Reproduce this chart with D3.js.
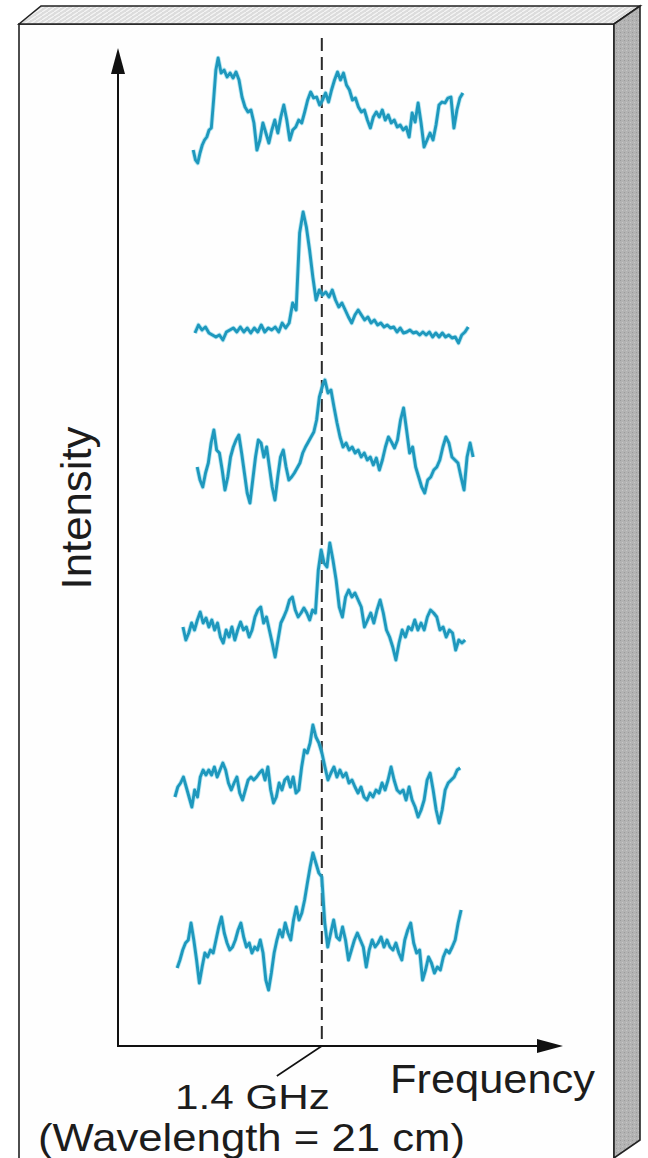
<!DOCTYPE html>
<html>
<head>
<meta charset="utf-8">
<script src="https://cdn.jsdelivr.net/npm/d3@7"></script>
<style>
  html, body { margin: 0; padding: 0; background: #ffffff; }
  svg { display: block; }
  text { font-family: "Liberation Sans", Arial, Helvetica, sans-serif; fill: #1c1c1c; }
</style>
</head>
<body>
<svg id="chart" width="648" height="1158"></svg>
<script>
// ---------------- data ----------------
// Frequency (arbitrary channel units) of each spectrum: [start, peak, end]
const traceSpans = [
  [16.9, 22.5, 77.5],
  [17.3, 41.6, 78.7],
  [17.8, 46.5, 79.8],
  [14.6, 47.6, 78.0],
  [12.8, 43.8, 76.9],
  [13.3, 43.8, 77.1]
];
// position of the 1.4 GHz (21 cm) line on the frequency axis
const lineFreq = 45.8;
const lineLabel = "1.4 GHz";
const lineSubLabel = "(Wavelength = 21 cm)";
const xLabel = "Frequency";
const yLabel = "Intensity";

// intensities (relative units) sampled across each span, top to bottom
const spectrum1 = [55,45,42,52,60,65,68,75,77,105,135,147,132,135,128,132,127,133,125,108,98,93,95,82,55,65,82,72,62,75,85,72,88,100,85,65,75,78,85,82,93,105,113,107,108,100,105,112,103,115,125,133,125,132,120,115,105,107,98,93,95,85,77,88,93,88,95,85,90,82,85,78,80,75,78,68,92,83,102,82,58,65,72,65,80,100,103,102,107,108,77,95,107,112];
const spectrum2 = [37,45,40,43,37,35,33,35,30,38,40,42,38,43,38,42,37,42,38,45,38,42,40,43,38,47,42,47,67,60,137,158,143,120,93,70,80,75,78,73,80,70,63,67,60,53,47,55,60,55,50,53,47,50,45,47,43,45,42,43,38,42,37,38,40,37,38,35,38,35,38,33,37,33,37,33,35,32,33,27,35,38,43];
const spectrum3 = [68,55,48,62,72,92,105,85,82,65,45,58,78,88,95,100,82,62,42,32,55,78,95,92,78,88,68,48,35,58,78,85,68,55,58,62,67,72,82,88,93,98,103,115,138,148,155,142,145,128,112,98,88,92,85,88,82,85,78,82,75,78,70,77,65,75,88,98,93,87,95,115,127,105,82,88,68,58,48,42,55,58,65,68,75,88,98,92,78,75,72,58,45,78,92,78];
const spectrum4 = [73,60,67,77,70,80,88,77,82,73,80,70,77,63,57,70,63,73,60,70,78,70,73,63,70,83,90,93,77,83,70,57,43,60,77,83,90,100,103,90,83,87,92,87,80,90,87,130,150,137,133,157,140,120,93,83,103,110,103,107,100,93,73,80,87,77,90,100,87,70,63,53,40,57,70,63,73,70,80,70,77,70,83,90,87,83,70,73,63,70,67,50,60,57,60];
const spectrum5 = [68,78,82,88,78,68,58,75,68,88,95,90,95,90,98,88,95,102,95,82,75,82,88,72,65,75,85,88,85,88,92,95,85,98,75,62,68,82,75,85,88,78,88,72,75,98,115,112,122,140,128,122,112,98,85,92,98,88,95,88,92,82,85,78,72,78,68,65,72,68,75,72,82,75,85,98,85,75,72,75,65,78,65,58,48,55,65,85,92,75,55,42,55,75,82,85,88,95,97];
const spectrum6 = [62,70,80,87,90,107,90,70,47,63,77,73,80,77,90,103,113,97,87,80,83,90,100,107,93,83,87,77,83,80,90,77,50,40,57,77,90,100,93,107,97,90,110,123,110,117,130,147,163,177,167,157,153,107,83,97,110,93,90,103,90,70,80,90,97,90,83,63,80,90,83,87,93,83,90,83,80,87,77,70,90,100,107,87,77,80,50,60,73,67,57,63,60,73,80,77,83,90,107,120];
const spectra = [spectrum1, spectrum2, spectrum3, spectrum4, spectrum5, spectrum6];

// ---------------- layout ----------------
const svg = d3.select("#chart");

// patterns for the 3D panel faces
const defs = svg.append("defs");
const topPat = defs.append("pattern").attr("id", "topTex").attr("width", 6).attr("height", 4)
  .attr("patternUnits", "userSpaceOnUse");
topPat.append("rect").attr("width", 6).attr("height", 4).attr("fill", "#dcdcdc");
topPat.append("path").attr("d", "M0,4 L6,0").attr("stroke", "#f6f6f6").attr("stroke-width", 1.2);
const sidePat = defs.append("pattern").attr("id", "sideTex").attr("width", 4).attr("height", 4)
  .attr("patternUnits", "userSpaceOnUse");
sidePat.append("rect").attr("width", 4).attr("height", 4).attr("fill", "#b3b3b3");
sidePat.append("rect").attr("x", 0).attr("y", 0).attr("width", 1).attr("height", 1).attr("fill", "#9a9a9a");
sidePat.append("rect").attr("x", 2).attr("y", 2).attr("width", 1).attr("height", 1).attr("fill", "#c8c8c8");

// panel (front face, top face, right side face)
const front = { x0: 19, y0: 24, x1: 614, y1: 1175 };
const depth = { dx: 26, dy: -18 };
svg.append("rect").attr("x", front.x0).attr("y", front.y0)
  .attr("width", front.x1 - front.x0).attr("height", front.y1 - front.y0)
  .attr("fill", "#fefefe").attr("stroke", "#222").attr("stroke-width", 1.6);
svg.append("path")
  .attr("d", `M${front.x0},${front.y0} L${front.x0 + depth.dx - 4},${front.y0 + depth.dy} L${front.x1 + depth.dx},${front.y0 + depth.dy} L${front.x1},${front.y0} Z`)
  .attr("fill", "url(#topTex)").attr("stroke", "#222").attr("stroke-width", 1.6);
svg.append("path")
  .attr("d", `M${front.x1},${front.y0} L${front.x1 + depth.dx},${front.y0 + depth.dy} L${front.x1 + depth.dx},${1140} L${front.x1},${1158} Z`)
  .attr("fill", "url(#sideTex)").attr("stroke", "#222").attr("stroke-width", 1.6);

// scales
const x = d3.scaleLinear().domain([0, 100]).range([118, 563]);
const rows = d3.scaleBand().domain(d3.range(spectra.length)).range([40, 1030]).paddingInner(0);
const yIn = d3.scaleLinear().domain([0, rows.bandwidth()]).range([rows.bandwidth(), 0]);
const axisY0 = 1046; // position of frequency axis
const axisYTop = 48;

// dashed 21 cm line
svg.append("line")
  .attr("x1", x(lineFreq)).attr("x2", x(lineFreq))
  .attr("y1", 38).attr("y2", axisY0)
  .attr("stroke", "#2a2a2a").attr("stroke-width", 2)
  .attr("stroke-dasharray", "13,6");

// spectra
const line = d3.line().x(d => d[0]).y(d => d[1]).curve(d3.curveLinear);
spectra.forEach((vals, i) => {
  const [f0, fp, f1] = traceSpans[i];
  const pk = d3.maxIndex(vals);
  const fx = d3.scaleLinear().domain([0, pk, vals.length - 1]).range([f0, fp, f1]);
  const pts = vals.map((v, j) => [x(fx(j)), rows(i) + yIn(v)]);
  const g = svg.append("g");
  g.append("path").attr("d", line(pts)).attr("fill", "none")
    .attr("stroke", "#6fd0e6").attr("stroke-width", 4.6).attr("stroke-linejoin", "round").attr("opacity", 0.5);
  g.append("path").attr("d", line(pts)).attr("fill", "none")
    .attr("stroke", "#1e98bd").attr("stroke-width", 2.9).attr("stroke-linejoin", "round");
});

// axes with arrowheads
svg.append("line").attr("x1", x(0)).attr("x2", x(0)).attr("y1", axisY0).attr("y2", axisYTop + 18)
  .attr("stroke", "#111").attr("stroke-width", 2);
svg.append("line").attr("x1", x(0) - 1).attr("x2", x(100) - 18).attr("y1", axisY0).attr("y2", axisY0)
  .attr("stroke", "#111").attr("stroke-width", 2);
svg.append("path")
  .attr("d", `M${x(0)},${axisYTop} L${x(0) - 7},${axisYTop + 26} L${x(0) + 7},${axisYTop + 26} Z`)
  .attr("fill", "#111");
svg.append("path")
  .attr("d", `M${x(100)},${axisY0} L${x(100) - 26},${axisY0 - 7} L${x(100) - 26},${axisY0 + 7} Z`)
  .attr("fill", "#111");

// leader from 1.4 GHz mark to label
svg.append("line").attr("x1", x(lineFreq)).attr("y1", axisY0)
  .attr("x2", x(lineFreq) - 45).attr("y2", axisY0 + 30)
  .attr("stroke", "#111").attr("stroke-width", 1.6);

// labels
svg.append("text").attr("transform", `translate(91,508) rotate(-90)`)
  .attr("text-anchor", "middle").attr("font-size", 42)
  .attr("textLength", 163).attr("lengthAdjust", "spacingAndGlyphs").text(yLabel);
svg.append("text").attr("x", 390).attr("y", 1093).attr("font-size", 40)
  .attr("textLength", 205).attr("lengthAdjust", "spacingAndGlyphs").text(xLabel);
svg.append("text").attr("x", 175).attr("y", 1109).attr("font-size", 35)
  .attr("textLength", 155).attr("lengthAdjust", "spacingAndGlyphs").text(lineLabel);
svg.append("text").attr("x", 38).attr("y", 1151).attr("font-size", 38)
  .attr("textLength", 427).attr("lengthAdjust", "spacingAndGlyphs").text(lineSubLabel);
</script>
</body>
</html>
